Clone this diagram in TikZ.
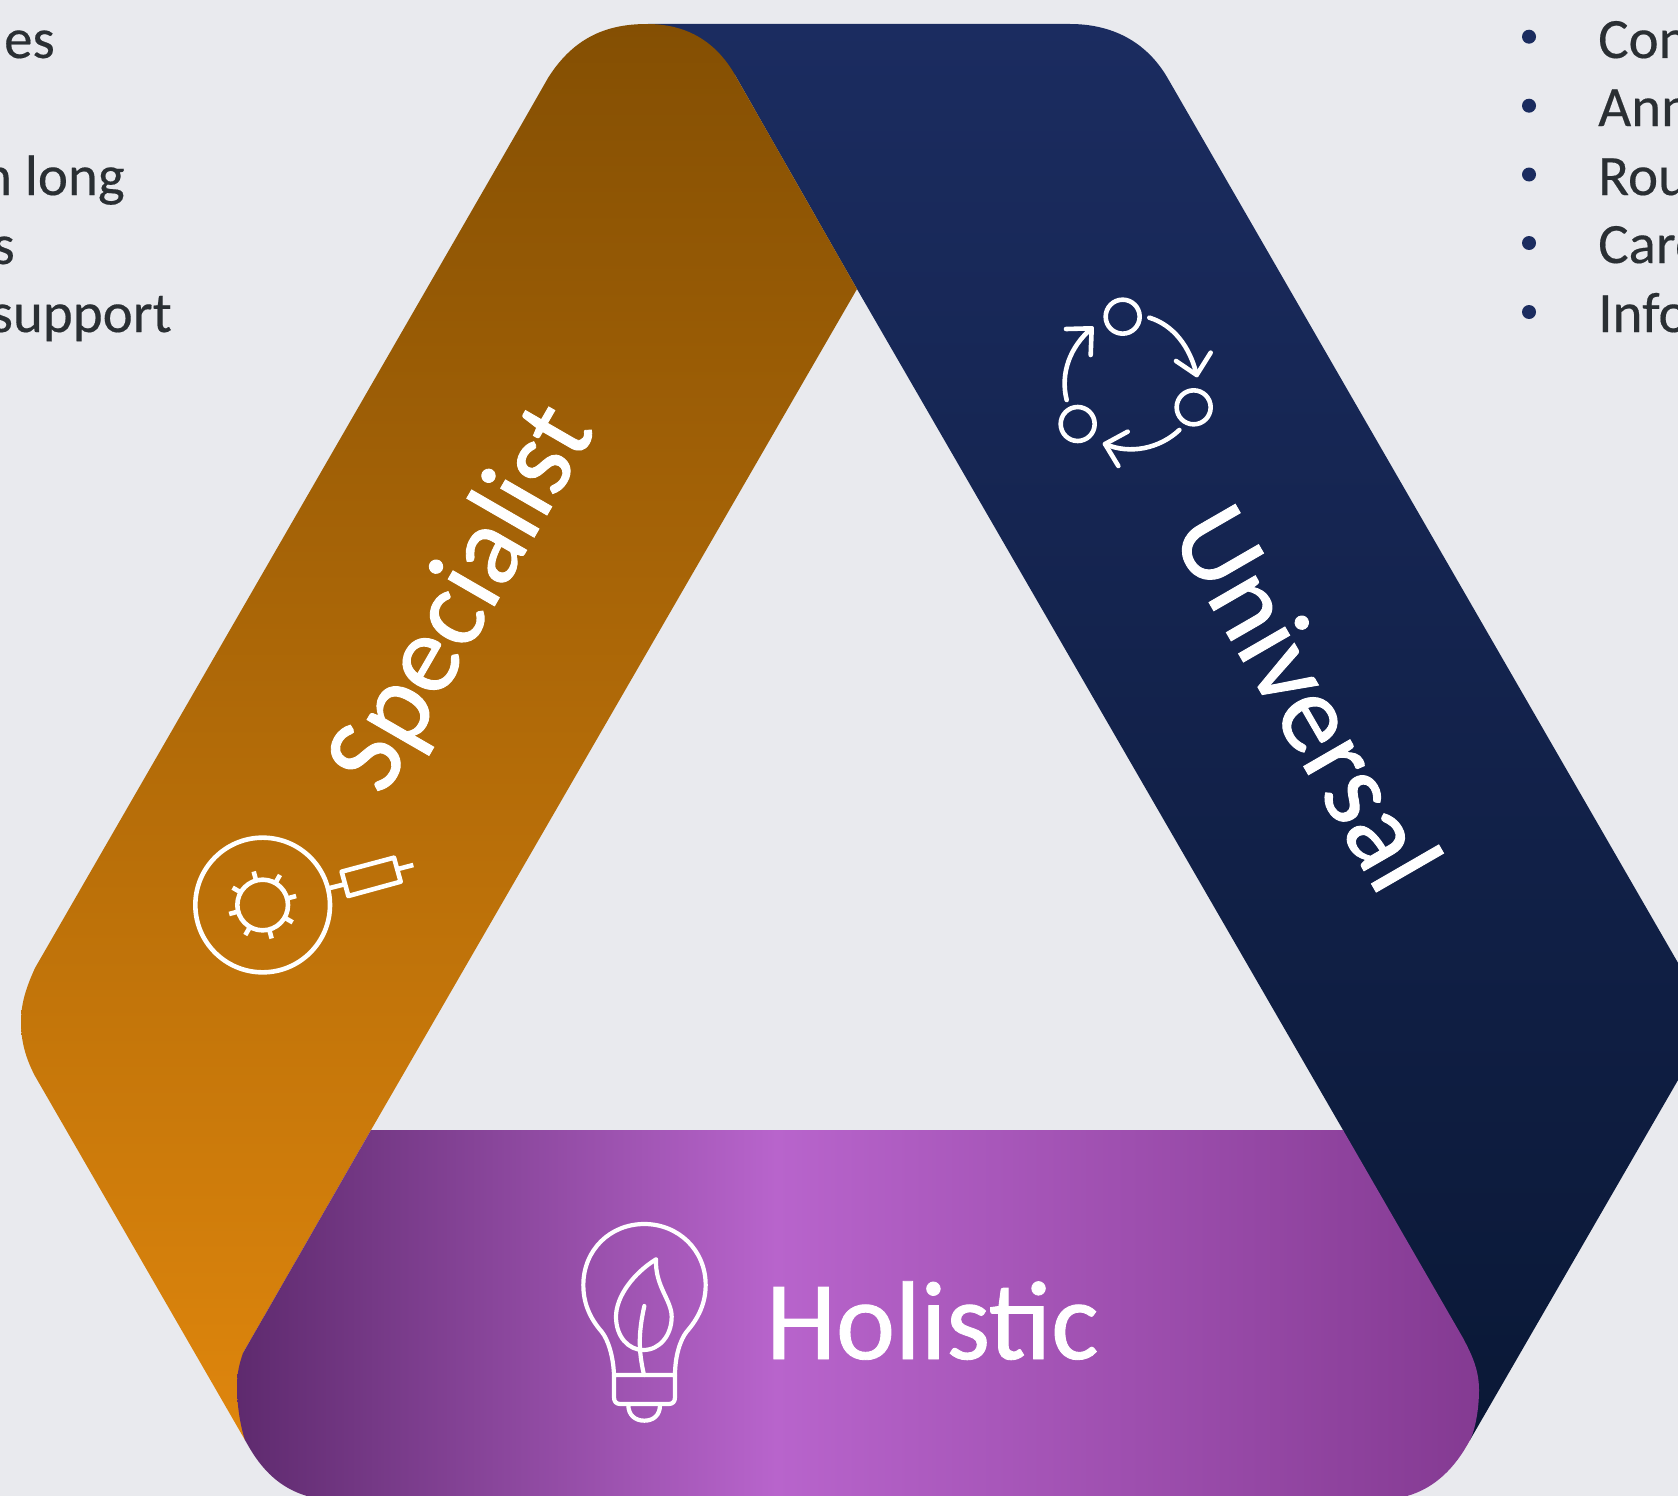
\documentclass[tikz,border=0pt]{standalone}
\usepackage{fontspec}
\setmainfont{Carlito}
\newfontfamily\heavyband[FakeBold=0.8]{Carlito}
\newfontfamily\heavybody[FakeBold=0.3]{Carlito}
\definecolor{pagebg}{HTML}{E9EAEE}
\definecolor{bodytext}{HTML}{2A2F33}
\definecolor{bulletblue}{HTML}{1B2C5F}
\definecolor{oTop}{HTML}{844F03}
\definecolor{oBot}{HTML}{DF860D}
\definecolor{bTop}{HTML}{1B2C60}
\definecolor{bBot}{HTML}{0A1836}
\definecolor{pL}{HTML}{5E2A6E}
\definecolor{pM}{HTML}{B864CC}
\definecolor{pR}{HTML}{843A92}
\pgfdeclarehorizontalshading{purpleband}{100bp}{color(0bp)=(pL); color(25bp)=(pL); color(46.7bp)=(pM); color(75bp)=(pR); color(100bp)=(pR)}
\tikzset{
  bodyline/.style={inner sep=0pt,text=bodytext,font=\heavybody\fontsize{57}{57}\selectfont},
  bandlabel/.style={inner sep=0pt,text=white,font=\heavyband\fontsize{112}{112}\selectfont},
  bulletdot/.style={circle,fill=bulletblue,draw=none,minimum size=14pt,inner sep=0pt},
  iconline/.style={draw=white,line width=4.6pt,line cap=round,line join=round},
  iconfine/.style={draw=white,line width=4.2pt,line cap=round,line join=round}
}
\begin{document}
\begin{tikzpicture}[x=1pt,y=-1pt]
\useasboundingbox (0,0) rectangle (1678,1496);
\fill[pagebg] (0,0) rectangle (1678,1496);

% left text column
\node[bodyline,anchor=base east] (l1) at (55,58) {es};
\node[bodyline,anchor=base east] (l3) at (125,195) {n long};
\node[bodyline,anchor=base east] (l4) at (15,264) {s};
\node[bodyline,anchor=base east] (l5) at (172,332) {support};

% right text column
\foreach \nm/\yb/\yc/\tx in {a/58/36.7/Con,b/126/105.7/Ann,c/195/174.5/Rou,d/263/243/Care,e/332/312/Info}{
  \node[bulletdot] (dot\nm) at (1529,\yc) {};
  \node[bodyline,anchor=base west] (r\nm) at (1598,\yb) {\tx};
}

% blue band
\shade[top color=bTop,bottom color=bBot]
  (648,24) -- (1070,24) .. controls (1110,24) and (1145,40) .. (1167,77)
  -- (1700,1001) -- (1700,1042) -- (1470,1440) -- (1343,1130) -- (857,289) -- (735,75) -- cycle;

% orange band
\shade[top color=oTop,bottom color=oBot]
  (520,127) -- (548,78) .. controls (575,35) and (610,24) .. (647,24)
  .. controls (685,24) and (715,40) .. (735,75)
  -- (857,289) -- (371,1130) -- (243,1353) -- (300,1440) -- (245,1440)
  -- (35,1076) .. controls (25,1057) and (21,1040) .. (21,1022)
  .. controls (21,1005) and (25,990) .. (35,968) -- cycle;

% purple band
\begin{scope}
\clip (371,1130) -- (1343,1130) -- (1463,1338)
  .. controls (1472,1355) and (1479,1370) .. (1479,1390)
  .. controls (1479,1410) and (1475,1430) .. (1470,1440)
  .. controls (1455,1468) and (1435,1488) .. (1407,1496)
  -- (1385,1505) -- (340,1505) -- (307,1496)
  .. controls (270,1485) and (254,1456) .. (245,1440)
  .. controls (240,1425) and (237,1405) .. (237,1385)
  .. controls (237,1372) and (240,1362) .. (243,1353) -- cycle;
\shade[shading=purpleband] (237,1120) rectangle (1479,1520);
\end{scope}

% labels
\node[bandlabel,rotate=60] (spec) at (464,599) {Specialist};
\node[bandlabel,rotate=-60] (univ) at (1308,697) {Universal};
\node[bandlabel,anchor=base west] (hol) at (766,1359) {Holistic};

% magnifier with syringe icon
\begin{scope}[shift={(170,810)},scale=1/3]
  \draw[iconline] (278,285) circle (202);
  \draw[iconline] (278,285) circle (76);
  \foreach \a in {15,60,105,150,195,240,285,330}{
    \draw[iconline,line cap=butt] (278,285) ++(-\a:76) -- ++(-\a:28);
  }
  \draw[iconline,line cap=butt] (475,235) -- (528,222);
  \draw[iconline] (515,185) -- (672,143) -- (692,215) -- (535,258) -- cycle;
  \draw[iconline,line cap=butt] (680,178) -- (730,165);
\end{scope}

% cycle icon
\begin{scope}[shift={(1040,280)},scale=1/3]
  \draw[iconline] (248,110) circle (51);
  \draw[iconline] (461,382) circle (51);
  \draw[iconline] (113,432) circle (51);
  \draw[iconline] (328,113) .. controls (400,135) and (450,200) .. (470,285);
  \draw[iconline] (408,243) -- (470,285) -- (512,218);
  \draw[iconline] (418,450) .. controls (360,505) and (270,525) .. (195,492);
  \draw[iconline] (263,455) -- (195,492) -- (235,558);
  \draw[iconline] (80,360) .. controls (60,280) and (90,200) .. (155,145);
  \draw[iconline] (78,147) -- (155,145) -- (152,225);
\end{scope}

% bulb icon
\begin{scope}[shift={(560,1200)},scale=1/3]
  \draw[iconfine] (162,525) .. controls (160,470) and (145,420) .. (125,395)
    .. controls (90,355) and (70,310) .. (70,255)
    .. controls (70,150) and (150,72) .. (253,72)
    .. controls (355,72) and (437,150) .. (437,255)
    .. controls (437,310) and (415,355) .. (380,395)
    .. controls (360,420) and (345,470) .. (345,525);
  \draw[iconfine] (162,525) -- (345,525) -- (345,592)
    .. controls (345,605) and (338,612) .. (326,612) -- (181,612)
    .. controls (169,612) and (162,605) .. (162,592) -- cycle;
  \draw[iconfine] (205,615) .. controls (205,645) and (225,662) .. (253,662)
    .. controls (281,662) and (300,645) .. (300,615);
  \draw[iconfine] (288,178) .. controls (220,220) and (168,290) .. (168,350)
    .. controls (168,410) and (205,450) .. (250,450)
    .. controls (300,450) and (335,405) .. (335,350)
    .. controls (335,300) and (285,260) .. (288,178);
  \draw[iconfine] (253,318) .. controls (235,400) and (235,450) .. (252,525);
\end{scope}
\end{tikzpicture}
\end{document}
